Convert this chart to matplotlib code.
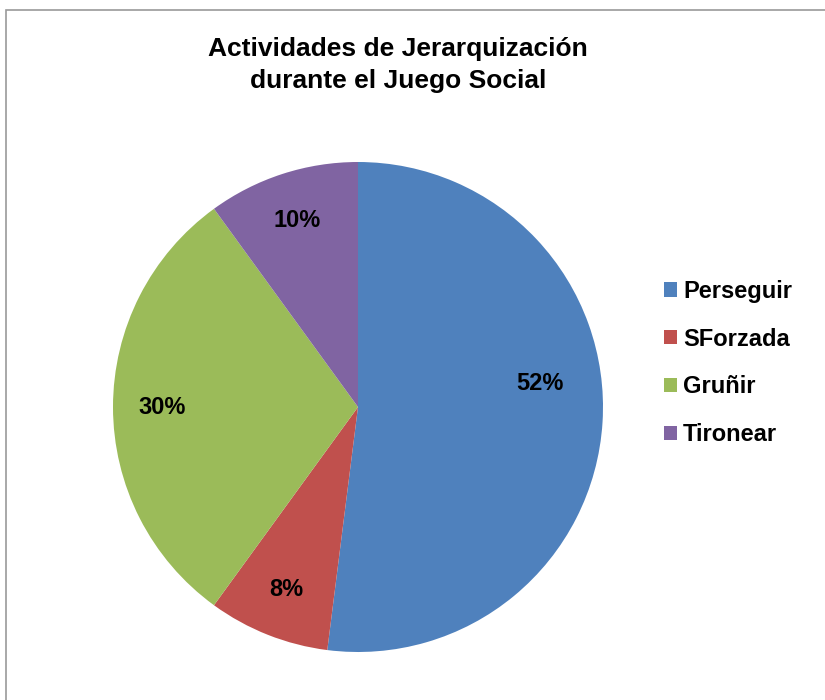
import matplotlib
matplotlib.use("Agg")
import matplotlib.pyplot as plt
from matplotlib.patches import Rectangle
import numpy as np

categories = ["Perseguir", "SForzada", "Gruñir", "Tironear"]
values = [52, 8, 30, 10]
colors = ["#4F81BD", "#C0504D", "#9BBB59", "#8064A2"]
title = "Actividades de Jerarquización\ndurante el Juego Social"

plt.rcParams['font.family'] = ['Liberation Sans', 'DejaVu Sans']

W, H = 825, 700
fig = plt.figure(figsize=(W / 100, H / 100), dpi=100)

# outer frame
fig.patches.append(Rectangle((6 / W, 0 - 0.02), 1.1, (H - 10) / H + 0.02,
                             transform=fig.transFigure, fill=False,
                             edgecolor="#9a9a9a", linewidth=1.2))

cx, cy, r = 358, 407, 245
ax = fig.add_axes([(cx - r) / W, 1 - (cy + r) / H, 2 * r / W, 2 * r / H])
wedges, texts, autotexts = ax.pie(values, colors=colors, startangle=90,
                                  counterclock=False, radius=1,
                                  autopct=lambda p: f"{p:.0f}%",
                                  pctdistance=0.8,
                                  textprops=dict(fontsize=17, fontweight="bold",
                                                 color="black"))
ax.set_aspect("equal")
ax.set_xlim(-1, 1)
ax.set_ylim(-1, 1)
# Excel-style best-fit placement for the big slice label
ang = np.deg2rad(7.5)
autotexts[0].set_position((0.75 * np.cos(ang), 0.75 * np.sin(ang)))

fig.text(398 / W, 1 - 65 / H, title, ha="center", va="center",
         fontsize=19, fontweight="bold", linespacing=1.4)

leg = fig.legend(wedges, categories, loc="center left",
                 bbox_to_anchor=(664 / W, 1 - 363 / H),
                 frameon=False, prop=dict(size=17, weight="bold"),
                 borderpad=0, borderaxespad=0,
                 handlelength=0.55, handleheight=0.55, handletextpad=0.25,
                 labelspacing=1.05)

fig.savefig("out.png", dpi=100)
